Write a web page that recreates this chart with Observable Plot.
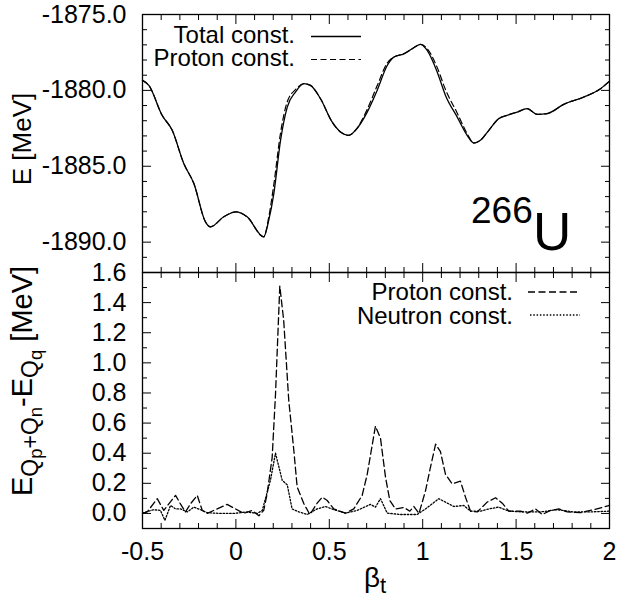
<!DOCTYPE html>
<html><head><meta charset="utf-8">
<script src="https://cdn.jsdelivr.net/npm/d3@7"></script>
<script src="https://cdn.jsdelivr.net/npm/@observablehq/plot@0.6"></script>
<style>
body{margin:0;background:#fff;}
#wrap{position:relative;width:621px;height:601px;font-family:"Liberation Sans",Arial,sans-serif;}
#wrap > svg{position:absolute;left:0;}
</style></head><body><div id="wrap"></div>
<script>
// ---- data ----
const betaTop = [-0.5, -0.466, -0.395, -0.341, -0.279, -0.225, -0.163, -0.136, -0.065, 0.0, 0.06, 0.149, 0.176, 0.203, 0.239, 0.275, 0.319, 0.364, 0.399, 0.453, 0.515, 0.56, 0.604, 0.64, 0.703, 0.756, 0.81, 0.845, 0.899, 0.944, 0.988, 1.024, 1.078, 1.122, 1.185, 1.238, 1.274, 1.309, 1.354, 1.407, 1.452, 1.506, 1.559, 1.613, 1.666, 1.755, 1.862, 1.952, 2.0];
const eTotal = [-1879.34, -1879.67, -1881.64, -1882.63, -1884.82, -1886.14, -1888.66, -1888.99, -1888.33, -1888.0, -1888.33, -1889.65, -1888.55, -1886.80, -1883.29, -1881.1, -1880.11, -1879.56, -1879.67, -1880.55, -1882.08, -1882.74, -1882.96, -1882.63, -1881.43, -1880.0, -1878.36, -1877.81, -1877.59, -1877.26, -1876.97, -1877.37, -1878.8, -1880.33, -1881.76, -1882.96, -1883.47, -1883.29, -1882.63, -1881.86, -1881.64, -1881.43, -1881.2, -1881.58, -1881.53, -1880.92, -1880.44, -1879.89, -1879.39];
const eProton = [-1879.34, -1879.67, -1881.64, -1882.63, -1884.82, -1886.14, -1888.66, -1888.99, -1888.33, -1888.0, -1888.33, -1889.65, -1888.35, -1886.2, -1882.8, -1880.75, -1879.95, -1879.56, -1879.67, -1880.55, -1882.08, -1882.74, -1882.96, -1882.63, -1881.25, -1879.7, -1878.2, -1877.81, -1877.59, -1877.26, -1876.97, -1877.25, -1878.5, -1879.95, -1881.5, -1882.85, -1883.47, -1883.29, -1882.63, -1881.86, -1881.64, -1881.43, -1881.2, -1881.58, -1881.53, -1880.92, -1880.44, -1879.89, -1879.39];

const betaDiffP = [-0.5, -0.475, -0.421, -0.386, -0.359, -0.323, -0.297, -0.27, -0.243, -0.207, -0.18, -0.154, -0.1, -0.047, -0.002, 0.042, 0.087, 0.123, 0.149, 0.167, 0.194, 0.212, 0.235, 0.256, 0.283, 0.31, 0.328, 0.364, 0.396, 0.435, 0.462, 0.489, 0.524, 0.587, 0.631, 0.676, 0.703, 0.747, 0.774, 0.801, 0.824, 0.854, 0.899, 0.931, 0.953, 0.98, 1.015, 1.042, 1.069, 1.095, 1.122, 1.157, 1.202, 1.229, 1.256, 1.292, 1.345, 1.39, 1.426, 1.461, 1.524, 1.56, 1.604, 1.64, 1.684, 1.729, 1.774, 1.845, 1.916, 2.0];
const diffProton = [0.0, 0.01, 0.098, 0.02, 0.064, 0.12, 0.064, 0.01, 0.064, 0.12, 0.02, 0.0, 0.03, 0.06, 0.03, 0.0, 0.02, -0.015, 0.02, 0.13, 0.37, 0.79, 1.51, 1.28, 0.75, 0.42, 0.175, 0.064, -0.007, 0.068, 0.108, 0.086, 0.03, 0.002, 0.03, 0.12, 0.26, 0.58, 0.50, 0.24, 0.086, 0.03, 0.04, 0.015, 0.046, 0.0, 0.15, 0.31, 0.46, 0.41, 0.26, 0.197, 0.214, 0.108, 0.015, 0.01, 0.075, 0.104, 0.068, 0.015, 0.015, 0.002, 0.03, -0.007, 0.02, 0.03, 0.01, 0.005, 0.025, 0.053];

const betaDiffN = [-0.5, -0.44, -0.404, -0.38, -0.35, -0.323, -0.297, -0.26, -0.225, -0.19, -0.154, -0.082, -0.011, 0.06, 0.114, 0.141, 0.185, 0.212, 0.23, 0.248, 0.275, 0.301, 0.337, 0.382, 0.435, 0.48, 0.524, 0.587, 0.649, 0.72, 0.747, 0.774, 0.81, 0.881, 0.97, 1.015, 1.051, 1.086, 1.122, 1.167, 1.22, 1.256, 1.309, 1.354, 1.407, 1.461, 1.541, 1.63, 1.72, 1.809, 1.898, 1.996];
const diffNeutron = [0.002, 0.025, 0.02, -0.046, 0.053, 0.03, 0.03, 0.01, 0.042, 0.025, 0.005, 0.0, 0.0, 0.01, 0.0, 0.02, 0.22, 0.40, 0.31, 0.22, 0.19, 0.03, 0.01, -0.007, 0.03, 0.046, 0.025, 0.002, 0.02, 0.06, 0.042, 0.098, 0.002, -0.007, -0.007, 0.03, 0.064, 0.098, 0.075, 0.046, 0.053, 0.015, 0.015, 0.03, 0.042, 0.015, 0.01, 0.01, 0.025, 0.01, 0.01, 0.015];

// ---- ticks ----
const xMajor = [-0.5, 0, 0.5, 1, 1.5, 2];
const xMinor = [-0.4, -0.3, -0.2, -0.1, 0.1, 0.2, 0.3, 0.4, 0.6, 0.7, 0.8, 0.9, 1.1, 1.2, 1.3, 1.4, 1.6, 1.7, 1.8, 1.9];
const yTopMajor = [-1890, -1885, -1880, -1875];
const yTopMinor = [-1891, -1889, -1888, -1887, -1886, -1884, -1883, -1882, -1881, -1879, -1878, -1877, -1876];
const yBotMajor = [0.0, 0.2, 0.4, 0.6, 0.8, 1.0, 1.2, 1.4, 1.6];
const yBotMinor = [0.1, 0.3, 0.5, 0.7, 0.9, 1.1, 1.3, 1.5];

const FONT = '"Liberation Sans", Arial, sans-serif';
const FS = 25;

function tickMarks(yMaj, yMin) {
  const o = {tickFormat: () => "", label: null};
  return [
    Plot.axisX(xMajor, {anchor: "bottom", tickSize: -9, ...o}),
    Plot.axisX(xMinor, {anchor: "bottom", tickSize: -5, ...o}),
    Plot.axisX(xMajor, {anchor: "top", tickSize: -9, ...o}),
    Plot.axisX(xMinor, {anchor: "top", tickSize: -5, ...o}),
    Plot.axisY(yMaj, {anchor: "left", tickSize: -9, ...o}),
    Plot.axisY(yMin, {anchor: "left", tickSize: -5, ...o}),
    Plot.axisY(yMaj, {anchor: "right", tickSize: -9, ...o}),
    Plot.axisY(yMin, {anchor: "right", tickSize: -5, ...o})
  ];
}

const topData = betaTop.map((b, i) => ({b, total: eTotal[i], proton: eProton[i]}));
const pData = betaDiffP.map((b, i) => ({b, v: diffProton[i]}));
const nData = betaDiffN.map((b, i) => ({b, v: diffNeutron[i]}));

const topPlot = Plot.plot({
  width: 621, height: 272,
  marginLeft: 142, marginRight: 12, marginTop: 14, marginBottom: 0,
  x: {domain: [-0.5, 2], label: null},
  y: {domain: [-1892, -1875], label: null},
  style: {fontFamily: FONT, fontSize: FS + "px", overflow: "visible", background: "transparent", color: "black"},
  marks: [
    Plot.line(topData, {x: "b", y: "total", stroke: "black", strokeWidth: 1.3, curve: "monotone-x"}),
    Plot.line(topData, {x: "b", y: "proton", stroke: "black", strokeWidth: 1.2, strokeDasharray: "6,3.5", curve: "monotone-x"}),
    ...tickMarks(yTopMajor, yTopMinor),
    Plot.axisY(yTopMajor, {anchor: "left", tickSize: 0, tickPadding: 16, tickFormat: d => d.toFixed(1), label: null, fontSize: FS}),
    Plot.frame({stroke: "black", strokeWidth: 1.3})
  ]
});

const botPlot = Plot.plot({
  width: 621, height: 329,
  marginLeft: 142, marginRight: 12, marginTop: 0, marginBottom: 73,
  x: {domain: [-0.5, 2], label: null},
  y: {domain: [-0.1, 1.6], label: null},
  style: {fontFamily: FONT, fontSize: FS + "px", overflow: "visible", background: "transparent", color: "black"},
  marks: [
    Plot.line(pData, {x: "b", y: "v", stroke: "black", strokeWidth: 1.3, strokeDasharray: "7,3.5"}),
    Plot.line(nData, {x: "b", y: "v", stroke: "black", strokeWidth: 1.3, strokeDasharray: "1.5,1.8"}),
    ...tickMarks(yBotMajor, yBotMinor),
    Plot.axisY(yBotMajor, {anchor: "left", tickSize: 0, tickPadding: 16, tickFormat: d => d.toFixed(1), label: null, fontSize: FS}),
    Plot.axisX(xMajor, {anchor: "bottom", tickSize: 0, tickPadding: 14, tickFormat: d => String(d), label: null, fontSize: FS}),
    Plot.frame({stroke: "black", strokeWidth: 1.3})
  ]
});

const wrap = document.getElementById("wrap");
topPlot.style.top = "0px";
botPlot.style.top = "272px";
topPlot.style.position = "absolute";
botPlot.style.position = "absolute";
wrap.appendChild(topPlot);
wrap.appendChild(botPlot);

// ---- overlay: legends, annotations and axis titles ----
const ns = "http://www.w3.org/2000/svg";
const ov = document.createElementNS(ns, "svg");
ov.setAttribute("width", 621); ov.setAttribute("height", 601);
ov.style.position = "absolute"; ov.style.left = "0px"; ov.style.top = "0px";
ov.setAttribute("font-family", FONT);
ov.innerHTML = `
  <text x="295" y="43" text-anchor="end" font-size="24">Total const.</text>
  <line x1="311" x2="361" y1="36.5" y2="36.5" stroke="black" stroke-width="1.3"/>
  <text x="295" y="66" text-anchor="end" font-size="24">Proton const.</text>
  <line x1="311" x2="361" y1="59.5" y2="59.5" stroke="black" stroke-width="1.2" stroke-dasharray="6,3.5"/>
  <text x="471" y="223" font-size="37">266</text>
  <text x="533" y="250" font-size="53">U</text>
  <text x="513" y="300" text-anchor="end" font-size="24">Proton const.</text>
  <line x1="528" x2="578" y1="292" y2="292" stroke="black" stroke-width="1.3" stroke-dasharray="7,3.5"/>
  <text x="513" y="324" text-anchor="end" font-size="24">Neutron const.</text>
  <line x1="530" x2="580" y1="315" y2="315" stroke="black" stroke-width="1.3" stroke-dasharray="1.5,1.8"/>
  <text transform="translate(31,139) rotate(-90)" text-anchor="middle" font-size="26">E [MeV]</text>
  <text transform="translate(32,381) rotate(-90)" text-anchor="middle" font-size="29">E<tspan font-size="23" dy="6">Q</tspan><tspan font-size="18.5" dy="4">p</tspan><tspan font-size="23" dy="-4">+Q</tspan><tspan font-size="18.5" dy="4">n</tspan><tspan font-size="29" dy="-10">-E</tspan><tspan font-size="23" dy="6">Q</tspan><tspan font-size="18.5" dy="4">q</tspan><tspan font-size="29" dy="-10"> [MeV]</tspan></text>
  <text x="375" y="587" text-anchor="middle" font-size="28">β<tspan font-size="22" dy="6">t</tspan></text>
`;
wrap.appendChild(ov);
</script></body></html>
